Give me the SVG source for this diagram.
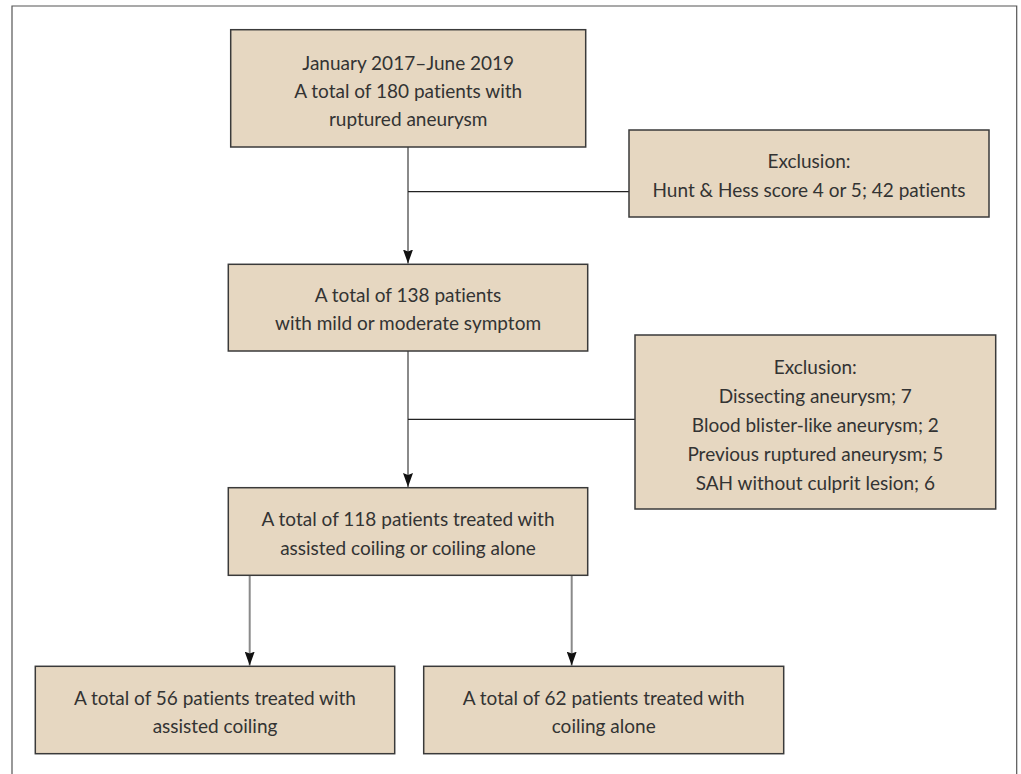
<svg xmlns="http://www.w3.org/2000/svg" width="1021" height="774" viewBox="0 0 1021 774">
<defs>
<style>
.box{fill:#e6d7c1;stroke:#3a3a3a;stroke-width:1.5}
.t{font-family:Lato,"Noto Sans",sans-serif;font-size:19px;fill:#333;text-anchor:middle;font-variant-ligatures:none;font-feature-settings:"liga" 0,"dlig" 0}
.v{stroke:#8a8a8a;stroke-width:2;fill:none}
.h{stroke:#222;stroke-width:1.2;fill:none}
.frame{fill:none;stroke:#555;stroke-width:1.2}
</style>
<marker id="arr" viewBox="0 0 14 10" refX="14" refY="5" markerWidth="14" markerHeight="10" markerUnits="userSpaceOnUse" orient="auto">
<path d="M0,0 L2,5 L0,10 L14,5 Z" fill="#111"/>
</marker>
</defs>
<rect width="1021" height="774" fill="#fff"/>
<path class="frame" d="M12,780 V6 H1016.7 V780"/>
<g id="connectors">
<line class="v" x1="408" y1="147" x2="408" y2="263.5" marker-end="url(#arr)"/>
<line class="h" x1="408" y1="191.7" x2="629" y2="191.7"/>
<line class="v" x1="408" y1="351" x2="408" y2="487" marker-end="url(#arr)"/>
<line class="h" x1="408" y1="419.3" x2="635" y2="419.3"/>
<line class="v" x1="249.7" y1="575.3" x2="249.7" y2="665.6" marker-end="url(#arr)"/>
<line class="v" x1="571.7" y1="575.3" x2="571.7" y2="665.6" marker-end="url(#arr)"/>
</g>
<g id="n1">
<rect class="box" x="230.7" y="29.7" width="355" height="117.3"/>
<text class="t" x="408.2" y="69.8">January 2017–June 2019</text>
<text class="t" x="408.2" y="97.8">A total of 180 patients with</text>
<text class="t" x="408.2" y="125.8">ruptured aneurysm</text>
</g>
<g id="ex1">
<rect class="box" x="629" y="130" width="360" height="87"/>
<text class="t" x="809" y="167.8">Exclusion:</text>
<text class="t" x="809" y="196.8">Hunt &amp; Hess score 4 or 5; 42 patients</text>
</g>
<g id="n2">
<rect class="box" x="228.3" y="264.3" width="359.4" height="86.7"/>
<text class="t" x="408" y="301.8">A total of 138 patients</text>
<text class="t" x="408" y="330.3">with mild or moderate symptom</text>
</g>
<g id="ex2">
<rect class="box" x="635" y="335" width="360.7" height="174"/>
<text class="t" x="815.3" y="374.3">Exclusion:</text>
<text class="t" x="815.3" y="403.3">Dissecting aneurysm; 7</text>
<text class="t" x="815.3" y="432.3">Blood blister-like aneurysm; 2</text>
<text class="t" x="815.3" y="460.8">Previous ruptured aneurysm; 5</text>
<text class="t" x="815.3" y="489.8">SAH without culprit lesion; 6</text>
</g>
<g id="n3">
<rect class="box" x="228.3" y="487.7" width="359.4" height="87.6"/>
<text class="t" x="408" y="525.8">A total of 118 patients treated with</text>
<text class="t" x="408" y="554.8">assisted coiling or coiling alone</text>
</g>
<g id="n4">
<rect class="box" x="35.3" y="666.3" width="359.4" height="87.4"/>
<text class="t" x="215" y="704.5">A total of 56 patients treated with</text>
<text class="t" x="215" y="733.2">assisted coiling</text>
</g>
<g id="n5">
<rect class="box" x="423.7" y="666.3" width="360" height="87.4"/>
<text class="t" x="603.7" y="704.5">A total of 62 patients treated with</text>
<text class="t" x="603.7" y="733.2">coiling alone</text>
</g>
</svg>
